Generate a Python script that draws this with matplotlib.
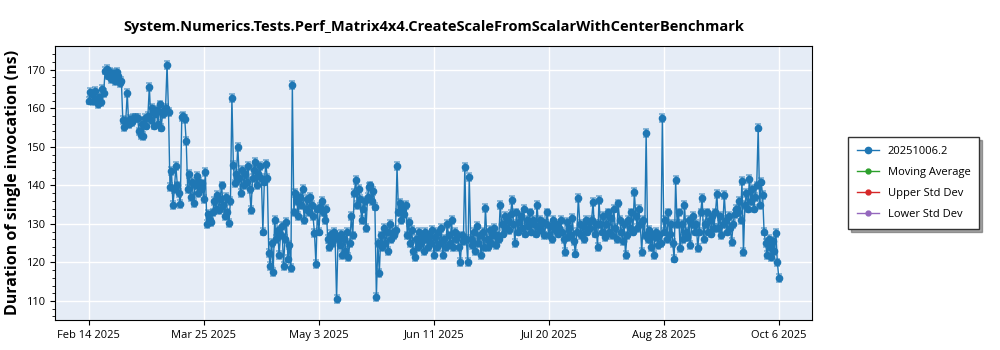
import numpy as np
import pandas as pd
import matplotlib
matplotlib.use('Agg')
import matplotlib.pyplot as plt

# benchmark results, two runs per day starting Feb 14 2025 (ns)
start = '2025-02-14'
values = [
    162.0, 164.2, 163.8, 161.8, 164.5, 162.3, 161.2, 162.8, 161.6, 165.0,
    164.0, 169.8, 170.2, 168.5, 169.5, 167.5, 168.8, 169.2, 167.0, 169.5,
    168.5, 166.5, 167.2, 157.0, 155.2, 156.8, 164.0, 155.8, 157.2, 156.5,
    157.5, 157.6, 157.4, 157.5, 154.0, 153.0, 156.0, 152.8, 157.5, 155.5,
    158.0, 165.6, 157.0, 160.0, 155.5, 158.5, 159.5, 156.0, 161.0, 155.0,
    158.5, 159.5, 160.0, 171.3, 159.0, 139.5, 143.8, 135.0, 139.0, 145.0,
    140.0, 138.0, 135.2, 157.8, 158.0, 157.2, 151.5, 139.0, 143.0, 137.0,
    141.0, 135.5, 140.0, 142.5, 138.0, 141.0, 139.0, 140.5, 136.5, 143.5,
    130.0, 132.5, 131.0, 130.5, 133.0, 136.0, 134.0, 137.5, 133.5, 136.5,
    140.0, 135.0, 132.0, 137.0, 133.0, 130.2, 136.0, 162.7, 145.3, 140.5,
    143.0, 150.0, 142.0, 138.0, 144.0, 140.0, 143.0, 141.0, 145.0, 139.0,
    133.6, 142.0, 144.0, 146.0, 140.0, 143.0, 145.0, 142.0, 128.0, 141.0,
    145.5, 142.0, 122.5, 119.0, 125.0, 117.5, 131.0, 126.0, 128.5, 122.0,
    127.0, 129.5, 119.0, 126.0, 130.5, 121.0, 124.5, 118.5, 166.1, 133.0,
    138.0, 136.0, 132.0, 137.0, 135.0, 139.0, 131.0, 134.0, 136.5, 133.0,
    137.0, 135.0, 132.0, 127.7, 119.6, 134.0, 128.0, 134.5, 136.0, 133.0,
    131.0, 134.0, 126.0, 124.0, 127.5, 125.0, 128.0, 126.5, 110.5, 126.0,
    124.5, 127.5, 122.0, 126.0, 123.0, 128.0, 121.5, 125.0, 132.0, 127.0,
    138.0, 141.4, 135.0, 139.0, 136.5, 131.0, 134.0, 136.0, 129.0, 137.0,
    139.5, 140.0, 136.0, 138.5, 134.5, 111.0, 125.0, 117.3, 127.0, 124.0,
    129.0, 125.0, 128.0, 123.0, 130.0, 126.0, 128.0, 127.0, 128.5, 145.0,
    133.0, 135.5, 131.0, 134.0, 132.5, 135.0, 127.0, 130.5, 125.0, 128.5,
    123.0, 121.4, 126.0, 124.0, 128.0, 125.0, 127.0, 123.0, 128.0, 126.0,
    124.0, 127.0, 125.0, 128.5, 122.0, 126.5, 124.0, 128.0, 125.0, 129.0,
    122.0, 126.0, 124.0, 130.0, 127.0, 125.0, 131.0, 124.0, 128.0, 126.0,
    127.0, 124.0, 120.2, 127.0, 125.5, 144.8, 126.0, 120.1, 142.2, 126.0,
    124.5, 128.0, 123.0, 129.5, 125.0, 127.0, 122.0, 128.0, 124.0, 134.1,
    126.0, 124.0, 128.5, 125.0, 127.0, 129.0, 124.5, 127.0, 126.0, 135.0,
    130.0, 127.5, 132.0, 129.0, 131.0, 128.5, 132.5, 136.2, 130.0, 125.0,
    133.0, 128.0, 130.5, 132.0, 129.0, 134.0, 127.5, 131.0, 129.5, 133.0,
    128.0, 131.0, 130.0, 127.5, 135.0, 129.0, 131.0, 128.5, 130.5, 127.0,
    130.0, 133.0, 127.0, 129.5, 126.0, 131.0, 128.5, 130.0, 127.5, 129.0,
    131.0, 128.0, 126.0, 122.7, 130.5, 126.5, 129.0, 127.0, 131.5, 125.5,
    122.3, 128.0, 136.8, 130.0, 127.0, 129.5, 126.0, 131.0, 128.0, 130.5,
    129.0, 131.0, 135.7, 127.5, 130.0, 124.0, 136.2, 130.0, 128.0, 132.0,
    126.5, 130.0, 133.0, 128.0, 131.5, 127.0, 134.0, 129.0, 126.0, 135.3,
    131.0, 128.0, 125.5, 130.0, 122.0, 127.0, 131.0, 129.0, 133.0, 128.0,
    138.3, 132.0, 129.0, 134.0, 130.0, 122.7, 131.0, 127.0, 153.6, 126.0,
    128.5, 124.0, 127.0, 122.0, 126.5, 128.0, 124.5, 127.0, 125.0, 157.5,
    128.0, 131.0, 126.0, 133.0, 127.5, 130.0, 125.0, 121.0, 141.4, 130.0,
    133.0, 123.8, 130.0, 126.0, 135.0, 128.0, 126.5, 131.0, 124.5, 130.0,
    132.0, 128.0, 130.0, 123.8, 128.0, 133.0, 136.8, 126.0, 130.0, 133.0,
    128.0, 131.0, 127.5, 132.0, 129.0, 133.0, 137.8, 129.0, 132.0, 127.0,
    130.0, 137.5, 131.0, 128.0, 132.0, 129.0, 125.3, 130.0, 132.5, 134.0,
    133.0, 136.0, 131.0, 141.2, 122.7, 135.0, 138.0, 134.0, 141.6, 136.0,
    139.0, 134.0, 137.0, 140.0, 155.0, 135.0, 141.0, 137.5, 128.0, 125.0,
    122.0, 126.0, 124.0, 121.5, 125.5, 123.0, 127.7, 120.0, 116.0,
]
err = 1.0

tick_dates = ['2025-02-14', '2025-03-25', '2025-05-03', '2025-06-11',
              '2025-07-20', '2025-08-28', '2025-10-06']
tick_labels = ['Feb 14 2025', 'Mar 25 2025', 'May 3 2025', 'Jun 11 2025',
               'Jul 20 2025', 'Aug 28 2025', 'Oct 6 2025']

series_names = ['20251006.2', 'Moving Average', 'Upper Std Dev', 'Lower Std Dev']
series_colors = ['#1f77b4', '#2ca02c', '#d62728', '#9467bd']

plt.rcParams['font.family'] = ['Open Sans', 'DejaVu Sans']

dates = pd.date_range(start, periods=len(values), freq='12h')

fig = plt.figure(figsize=(10, 3.5), dpi=100)
ax = fig.add_axes([0.055, 0.086, 0.757, 0.783])
ax.set_facecolor('#e5ecf6')

# error bars first (lighter), then line + markers
ax.errorbar(dates, values, yerr=err, fmt='none', ecolor='#1f77b4',
            elinewidth=1.2, capsize=2.5, capthick=1.2, alpha=0.55, zorder=2)
ax.plot(dates, values, '-o', color=series_colors[0], lw=1, ms=4.5,
        zorder=3, label=series_names[0])
for name, c in zip(series_names[1:], series_colors[1:]):
    ax.plot([], [], '-o', color=c, lw=1, ms=3.5, label=name)

ax.set_xlim(pd.Timestamp('2025-02-02 12:00'), pd.Timestamp('2025-10-17 06:00'))
ax.set_ylim(105.1, 176.2)
ax.set_xticks(pd.to_datetime(tick_dates))
ax.set_xticklabels(tick_labels, fontsize=8)
ax.set_yticks(np.arange(110, 171, 10))
ax.set_yticks(np.arange(106, 176, 2), minor=True)
ax.tick_params(axis='y', labelsize=8)
ax.grid(True, color='white', lw=1)
ax.set_axisbelow(True)

ax.set_title('System.Numerics.Tests.Perf_Matrix4x4.CreateScaleFromScalarWithCenterBenchmark',
             fontsize=10.5, fontweight='bold', pad=11)
ax.set_ylabel('Duration of single invocation (ns)', fontsize=11.5, fontweight='bold')

leg = ax.legend(loc='center left', bbox_to_anchor=(1.04, 0.5), fontsize=8,
                frameon=True, fancybox=False, shadow=True, edgecolor='#333333',
                borderpad=0.8, labelspacing=0.9, handlelength=2)
leg.get_frame().set_linewidth(1)

fig.savefig('out.png', dpi=100)
